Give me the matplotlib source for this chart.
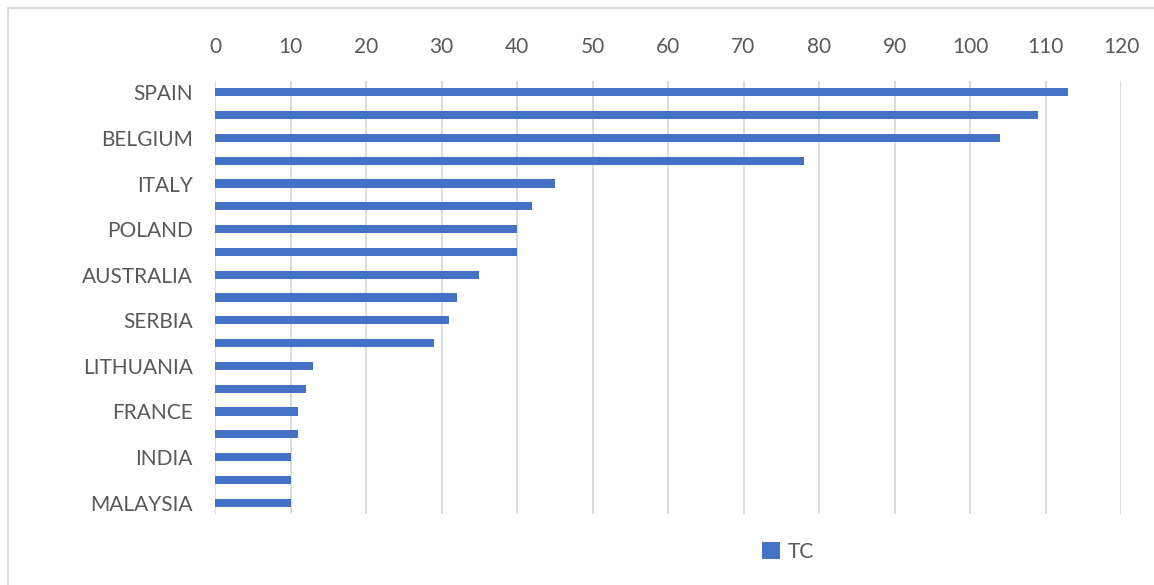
"""Horizontal bar chart of TC counts by country."""

import matplotlib.pyplot as plt
from matplotlib.patches import Rectangle

# categories top to bottom; only every other label is shown on the chart
countries = [
    "SPAIN", "", "BELGIUM", "", "ITALY", "", "POLAND", "", "AUSTRALIA", "",
    "SERBIA", "", "LITHUANIA", "", "FRANCE", "", "INDIA", "", "MALAYSIA",
]
tc_values = [113, 109, 104, 78, 45, 42, 40, 40, 35, 32, 31, 29, 13, 12, 11, 11, 10, 10, 10]
x_ticks = list(range(0, 121, 10))

BAR_COLOR = "#4472C4"
TEXT_COLOR = "#595959"
GRID_COLOR = "#D9D9D9"

plt.rcParams["font.family"] = ["Lato", "DejaVu Sans"]

fig = plt.figure(figsize=(11.54, 5.85), dpi=100)
ax = fig.add_axes([215 / 1154, 1 - 514 / 585, (1121 - 215) / 1154, (514 - 81) / 585])

positions = list(range(len(countries)))
ax.barh(positions, tc_values, height=0.36, color=BAR_COLOR, label="TC", zorder=3)

ax.set_ylim(len(countries) - 0.5, -0.5)
ax.set_xlim(0, 120)
ax.set_xticks(x_ticks)
ax.set_yticks(positions)
ax.set_yticklabels(countries)

ax.xaxis.tick_top()
ax.tick_params(axis="x", length=0, pad=17, labelsize=15, colors=TEXT_COLOR)
ax.tick_params(axis="y", length=0, pad=16, labelsize=15, colors=TEXT_COLOR)

ax.grid(axis="x", color=GRID_COLOR, linewidth=1.3, zorder=0)
for side in ax.spines.values():
    side.set_visible(False)

fig.legend(
    loc="center",
    bbox_to_anchor=(788 / 1154, 1 - 552 / 585),
    frameon=False,
    handlelength=0.85,
    handleheight=0.85,
    handletextpad=0.4,
    prop={"size": 15},
    labelcolor=TEXT_COLOR,
)

# light chart-area border, partly cut off at right and bottom
fig.patches.append(
    Rectangle((8 / 1154, -0.1), 1.2, 1.1 - 8 / 585, transform=fig.transFigure,
              fill=False, edgecolor=GRID_COLOR, linewidth=1.3)
)

fig.savefig("out.png", dpi=100)
plt.close(fig)
